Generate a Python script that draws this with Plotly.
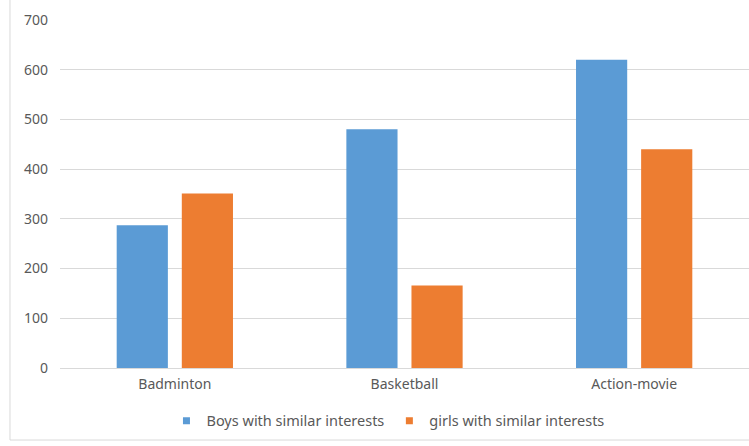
import plotly.graph_objects as go

categories = ["Badminton", "Basketball", "Action-movie"]
boys = [287, 480, 620]
girls = [351, 166, 440]
series_names = ["Boys with similar interests", "girls with similar interests"]
colors = ["#5B9BD5", "#ED7D31"]
y_ticks = [0, 100, 200, 300, 400, 500, 600, 700]

fig = go.Figure()
for name, vals, col in zip(series_names, [boys, girls], colors):
    fig.add_trace(go.Bar(x=categories, y=vals, name=name, marker_color=col,
                         marker_line_width=0, showlegend=False))
    fig.add_trace(go.Scatter(x=[None], y=[None], mode="markers", name=name,
                             marker=dict(symbol="square", size=7, color=col)))

font_fam = "Noto Sans, Open Sans, sans-serif"
fig.update_layout(
    width=749, height=446,
    margin=dict(l=60, r=0, t=20, b=78),
    paper_bgcolor="white", plot_bgcolor="white",
    barmode="group", bargap=0.433, bargroupgap=0.214,
    font=dict(family=font_fam, size=14, color="#595959"),
    xaxis=dict(showgrid=False, showline=False, ticks="", tickfont=dict(size=14, color="#595959"),
               ticklabelstandoff=6),
    yaxis=dict(range=[0, 700], tickvals=y_ticks, showgrid=True, gridcolor="#D9D9D9",
               gridwidth=1, zeroline=True, zerolinecolor="#D9D9D9", zerolinewidth=1,
               showline=False, ticks="", tickfont=dict(size=14, color="#595959"),
               ticklabelstandoff=11),
    legend=dict(orientation="h", x=0.476, xanchor="center", y=-0.152, yanchor="middle",
                font=dict(size=14.5, color="#595959"), itemwidth=30, tracegroupgap=0),
    shapes=[dict(type="rect", xref="paper", yref="paper", x0=-0.0726, x1=1.05,
                 y0=-0.207, y1=1.07, line=dict(color="#D9D9D9", width=1), layer="below")],
)
fig.write_html("out.html")
